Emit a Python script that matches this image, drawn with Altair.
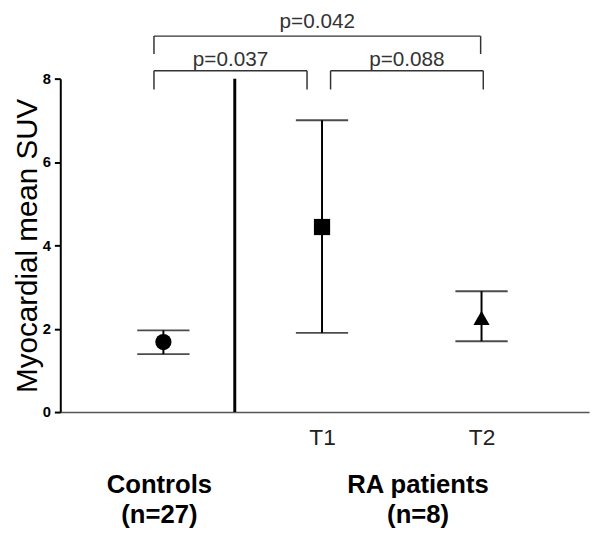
import altair as alt
import pandas as pd

# ---- data ----
groups = ["Controls", "T1", "T2"]
means = [1.68, 4.44, 2.26]
lower = [1.39, 1.90, 1.70]
upper = [1.96, 7.00, 2.90]
shapes = ["circle", "square", "triangle-up"]

tick_labels = ["T1", "T2"]
group_titles = [["Controls", "(n=27)"], ["RA patients", "(n=8)"]]

p_labels = ["p=0.037", "p=0.088", "p=0.042"]

# ---- layout (slot units along x) ----
pos = {"Controls": 1.17, "T1": 2.97, "T2": 4.78}
sep_x = 1.98
title_x = [1.125, 4.06]
title_y = -1.95
bracket_x1 = [1.063, 3.067, 1.063]
bracket_x2 = [2.80, 4.80, 4.77]
bracket_top = [8.19, 8.19, 9.02]
bracket_leg = [7.74, 7.74, 8.59]
p_text_y = [8.31, 8.31, 9.22]

FONT = "Liberation Sans"
W, H = 536, 338

xs = alt.Scale(domain=[0, 6], nice=False, zero=False)
ys = alt.Scale(domain=[0, 8], nice=False, zero=True)

label_expr = f"datum.value < 4 ? '{tick_labels[0]}' : '{tick_labels[1]}'"
x_axis = alt.Axis(values=[pos["T1"], pos["T2"]], labelExpr=label_expr, ticks=False,
                  domainColor="#555555", domainWidth=1.5, labelFont=FONT,
                  labelFontSize=23, labelColor="#222222", labelPadding=15,
                  grid=False, title=None)
y_axis = alt.Axis(values=[0, 2, 4, 6, 8], tickSize=6, tickWidth=2, tickColor="black",
                  domainColor="black", domainWidth=2, labelFont=FONT, labelFontSize=15,
                  labelFontWeight="bold", labelColor="black", labelPadding=4, grid=False,
                  title="Myocardial mean SUV", titleFont=FONT, titleFontSize=30,
                  titleFontWeight="normal", titleColor="black", titleX=-24, titleY=H / 2,
                  titleAngle=270, titleBaseline="alphabetic", titleAlign="center")


def X(field):
    return alt.X(field, type="quantitative", scale=xs, axis=x_axis)


def Y(field):
    return alt.Y(field, type="quantitative", scale=ys, axis=y_axis)


df = pd.DataFrame({
    "group": groups,
    "x": [pos[g] for g in groups],
    "mean": means,
    "lo": lower,
    "hi": upper,
})

whiskers = alt.Chart(df).mark_rule(color="black", strokeWidth=2).encode(
    x=X("x"), y=Y("lo"), y2="hi")

caps = alt.Chart(df).transform_fold(["lo", "hi"], as_=["end", "val"]).mark_tick(
    orient="horizontal", size=53, thickness=2, color="black").encode(
    x=X("x"), y=Y("val"))

points = alt.Chart(df).mark_point(filled=True, size=270, opacity=1, color="black").encode(
    x=X("x"), y=Y("mean"),
    shape=alt.Shape("group:N", scale=alt.Scale(domain=groups, range=shapes), legend=None))

sep = alt.Chart(pd.DataFrame({"x": [sep_x]})).mark_rule(color="black", strokeWidth=3).encode(
    x=X("x"), y=alt.value(0), y2=alt.value(H))

br = pd.DataFrame({
    "label": p_labels,
    "x1": bracket_x1,
    "x2": bracket_x2,
    "top": bracket_top,
    "leg": bracket_leg,
    "ty": p_text_y,
})
br["mid"] = (br["x1"] + br["x2"]) / 2

br_h = alt.Chart(br).mark_rule(color="#333333", strokeWidth=1.5).encode(
    x=X("x1"), x2="x2", y=Y("top"))
br_l = alt.Chart(br).mark_rule(color="#333333", strokeWidth=1.5).encode(
    x=X("x1"), y=Y("top"), y2="leg")
br_r = alt.Chart(br).mark_rule(color="#333333", strokeWidth=1.5).encode(
    x=X("x2"), y=Y("top"), y2="leg")
p_txt = alt.Chart(br).mark_text(font=FONT, fontSize=21, color="#333333",
                                baseline="alphabetic", align="center").encode(
    x=X("mid"), y=Y("ty"), text="label:N")

gt = pd.DataFrame({"x": title_x, "y": [title_y, title_y], "t": group_titles})
g_txt = alt.Chart(gt).mark_text(font=FONT, fontSize=26, fontWeight="bold", color="black",
                                lineHeight=30, baseline="alphabetic", align="center").encode(
    x=X("x"), y=Y("y"), text="t")

chart = alt.layer(sep, whiskers, caps, points, br_h, br_l, br_r, p_txt, g_txt).properties(
    width=W, height=H,
    padding={"left": 53, "top": 68, "right": 3, "bottom": 120},
    autosize=alt.AutoSizeParams(type="none"),
    background="white",
).configure_view(stroke=None)

chart.save("out.html", embed_options={"renderer": "svg", "actions": False})
